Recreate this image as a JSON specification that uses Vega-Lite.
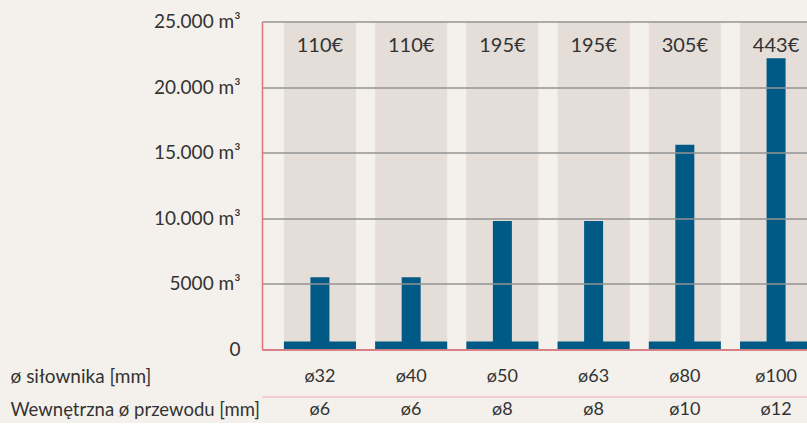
{
  "$schema": "https://vega.github.io/schema/vega-lite/v6.json",
  "background": "#f4f1ec",
  "padding": {"left": 10, "top": 12.5, "right": 0, "bottom": 0},
  "bounds": "flush",
  "spacing": 47,
  "config": {
    "view": {"stroke": null},
    "font": "Lato",
    "axis": {"labelFont": "Lato", "titleFont": "Lato"},
    "text": {"font": "Lato"}
  },
  "data": {
    "values": [
      {"cyl": "ø32", "inner": "ø6", "volume": 5500, "price": "110€"},
      {"cyl": "ø40", "inner": "ø6", "volume": 5500, "price": "110€"},
      {"cyl": "ø50", "inner": "ø8", "volume": 9800, "price": "195€"},
      {"cyl": "ø63", "inner": "ø8", "volume": 9800, "price": "195€"},
      {"cyl": "ø80", "inner": "ø10", "volume": 15600, "price": "305€"},
      {"cyl": "ø100", "inner": "ø12", "volume": 22200, "price": "443€"}
    ]
  },
  "vconcat": [
    {
      "width": 545,
      "height": 328,
      "layer": [
        {
          "mark": {"type": "bar", "color": "#e5ded8", "clip": true},
          "encoding": {
            "x": {
              "field": "cyl", "type": "nominal", "sort": null,
              "scale": {"type": "band", "range": [0, 572], "paddingInner": 0.21, "paddingOuter": 0.24},
              "axis": {
                "orient": "bottom", "ticks": false, "labelAngle": 0,
                "labelFontSize": 18, "labelColor": "#333333", "labelPadding": 27, "labelBaseline": "middle",
                "domainColor": "#e4707a", "domainWidth": 1.5, "grid": false, "zindex": 2,
                "title": "ø siłownika [mm]", "titleX": -252, "titleY": 27, "titleAlign": "left",
                "titleBaseline": "middle", "titleFontSize": 19, "titleFontWeight": "normal", "titleColor": "#333333"
              }
            },
            "y": {
              "datum": 25000, "type": "quantitative", "title": null,
              "scale": {"domain": [0, 25000], "nice": false},
              "axis": {
                "orient": "left", "values": [0, 5000, 10000, 15000, 20000, 25000], "ticks": false,
                "labelFontSize": 19, "labelColor": "#333333", "labelPadding": 22,
                "labelExpr": "datum.value == 0 ? '0' : (datum.value >= 10000 ? replace(format(datum.value, ','), ',', '.') : format(datum.value, 'd')) + ' m³'",
                "domainColor": "#e4707a", "domainWidth": 1.5,
                "grid": true, "gridColor": "#939393", "gridWidth": 1.5, "zindex": 1, "title": null
              }
            },
            "y2": {"datum": 0}
          }
        },
        {
          "mark": {"type": "bar", "color": "#005a85", "clip": true},
          "encoding": {
            "x": {"field": "cyl", "type": "nominal", "sort": null},
            "y": {"datum": 610, "type": "quantitative", "title": null},
            "y2": {"datum": 0}
          }
        },
        {
          "mark": {"type": "bar", "color": "#005a85", "width": 19, "clip": true},
          "encoding": {
            "x": {"field": "cyl", "type": "nominal", "sort": null},
            "y": {"field": "volume", "type": "quantitative", "title": null}
          }
        },
        {
          "mark": {"type": "text", "fontSize": 20, "color": "#333333", "dy": 24},
          "encoding": {
            "x": {"field": "cyl", "type": "nominal", "sort": null},
            "y": {"datum": 25000, "type": "quantitative", "title": null},
            "text": {"field": "price"}
          }
        }
      ]
    },
    {
      "width": 545,
      "height": 26,
      "mark": {"type": "text", "fontSize": 18, "color": "#333333"},
      "encoding": {
        "x": {
          "field": "cyl", "type": "nominal", "sort": null, "bandPosition": 0.5,
          "scale": {"type": "band", "range": [0, 572], "paddingInner": 0.21, "paddingOuter": 0.24},
          "axis": {
            "orient": "top", "labels": false, "ticks": false,
            "domainColor": "#f2c0c2", "domainWidth": 1.5, "grid": false,
            "title": "Wewnętrzna ø przewodu [mm]", "titleX": -252, "titleY": 13, "titleAlign": "left",
            "titleBaseline": "middle", "titleFontSize": 18.5, "titleFontWeight": "normal", "titleColor": "#333333"
          }
        },
        "text": {"field": "inner"}
      }
    }
  ]
}
